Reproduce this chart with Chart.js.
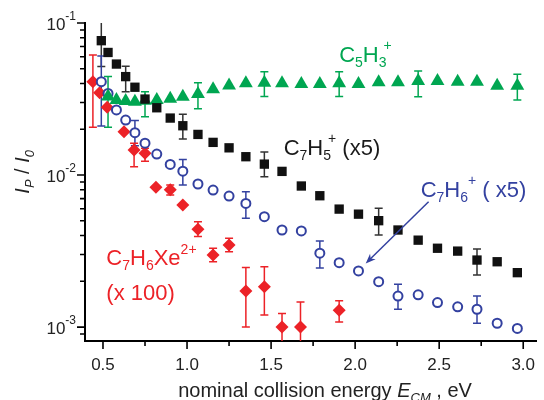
<!DOCTYPE html>
<html>
<head>
<meta charset="utf-8">
<script src="https://cdn.jsdelivr.net/npm/chart.js@4.4.0/dist/chart.umd.min.js"></script>
<style>
  html, body { margin: 0; padding: 0; background: #fff; }
</style>
</head>
<body>
<canvas id="chart" width="544" height="400"></canvas>
<script>
// --- DATA ---
const energy = [0.49, 0.53, 0.58, 0.635, 0.69, 0.75, 0.82, 0.90, 0.975, 1.065, 1.155, 1.25, 1.35, 1.46,
  1.565, 1.68, 1.79, 1.905, 2.02, 2.14, 2.255, 2.375, 2.49, 2.61, 2.725, 2.845, 2.965];

// C7H5+ (x5), black squares
const c7h5 = [0.0765, 0.064, 0.0537, 0.0444, 0.0378, 0.0316, 0.0277, 0.0237, 0.0211, 0.0185, 0.0164, 0.0151,
  0.0132, 0.0118, 0.01057, 0.00847, 0.00731, 0.00597, 0.00553, 0.00501, 0.00435, 0.00373, 0.0033, 0.00316,
  0.00276, 0.00269, 0.00228];
const c7h5ErrAt = [0, 3, 8, 13, 19, 24];
const c7h5ErrLo = [0.0517, 0.0353, 0.01726, 0.00975, 0.00403, 0.0022];
const c7h5ErrHi = [0.105, 0.052, 0.0251, 0.0142, 0.00604, 0.00326];

// C5H3+, green triangles (no point at the first energy)
const c5h3 = [null, 0.0328, 0.0311, 0.0307, 0.0304, 0.0308, 0.0311, 0.0318, 0.0327, 0.0341, 0.0366, 0.0388,
  0.0402, 0.0404, 0.0401, 0.0397, 0.0397, 0.0401, 0.0397, 0.0407, 0.0407, 0.0415, 0.0415, 0.0411, 0.0411,
  0.0387, 0.0387];
const c5h3ErrAt = [1, 5, 9, 13, 17, 21, 26];
const c5h3ErrLo = [0.0206, 0.0242, 0.0273, 0.0328, 0.0328, 0.0327, 0.0311];
const c5h3ErrHi = [0.0444, 0.0353, 0.0404, 0.0478, 0.0478, 0.0483, 0.0461];

// C7H6+ (x5), open blue circles
const c7h6 = [0.0411, 0.0344, 0.0268, 0.023, 0.019, 0.0162, 0.01375, 0.01175, 0.0106, 0.00873, 0.00796,
  0.00727, 0.00651, 0.00532, 0.00435, 0.00429, 0.00306, 0.00265, 0.00234, 0.00199, 0.0016, 0.00163, 0.00145,
  0.00136, 0.00131, 0.00106, 0.00098];
const c7h6ErrAt = [0, 4, 8, 12, 16, 20, 24];
const c7h6ErrLo = [0.021, 0.0156, 0.00859, 0.00519, 0.00245, 0.00131, 0.00106];
const c7h6ErrHi = [0.0607, 0.0228, 0.01267, 0.00776, 0.00368, 0.00191, 0.0016];

// C7H6Xe2+ (x 100), red diamonds
const energyXe = [0.44, 0.48, 0.525, 0.625, 0.685, 0.75, 0.815, 0.90, 0.975, 1.065, 1.155, 1.25, 1.35, 1.46,
  1.565, 1.675, 1.905];
const c7h6xe = [0.0411, 0.0348, 0.0279, 0.0193, 0.0146, 0.0139, 0.0083, 0.008, 0.00635, 0.0044, 0.00298,
  0.00347, 0.00173, 0.00184, 0.001, 0.001, 0.00129];
const c7h6xeErrAt = [0, 4, 5, 7, 9, 10, 11, 12, 13, 14, 15, 16];
const c7h6xeErrLo = [0.0206, 0.01135, 0.0123, 0.0074, 0.00394, 0.00269, 0.00313, 0.001, 0.0012, 0.0007, 0.0007, 0.00108];
const c7h6xeErrHi = [0.0616, 0.0162, 0.015, 0.0086, 0.00493, 0.0033, 0.00384, 0.00247, 0.00249, 0.00123, 0.00146, 0.00149];

// axis ticks
const xTickValues = [0.5, 1.0, 1.5, 2.0, 2.5, 3.0];
const xTickLabels = ['0.5', '1.0', '1.5', '2.0', '2.5', '3.0'];
const xMinorTicks = [0.75, 1.25, 1.75, 2.25, 2.75];
const yTickValues = [1e-1, 1e-2, 1e-3];
const yTickExp = ['-1', '-2', '-3'];

// --- STYLE ---
const FONT = '"Liberation Sans", Arial, Helvetica, sans-serif';
const BLACK = '#111111';
const GREEN = '#00a651';
const BLUE = '#3341a0';
const RED = '#ec2227';

const pts = (xs, ys) => xs.map((v, i) => (ys[i] == null ? null : { x: v, y: ys[i] })).filter(p => p);

// --- ERROR BARS ---
const errorBars = {
  id: 'errorBars',
  beforeDatasetsDraw(chart) {
    const { ctx, chartArea: a, scales: { x, y } } = chart;
    ctx.save();
    ctx.beginPath();
    ctx.rect(a.left, a.top, a.right - a.left, a.bottom - a.top);
    ctx.clip();
    chart.data.datasets.forEach(ds => {
      ctx.strokeStyle = ds.errColor;
      ctx.lineWidth = 1.5;
      ds.errAt.forEach((xv, k) => {
        const px = x.getPixelForValue(xv);
        const top = y.getPixelForValue(ds.errHi[k]);
        const bot = y.getPixelForValue(ds.errLo[k]);
        ctx.beginPath();
        ctx.moveTo(px, top); ctx.lineTo(px, bot);
        ctx.moveTo(px - 4, top); ctx.lineTo(px + 4, top);
        ctx.moveTo(px - 4, bot); ctx.lineTo(px + 4, bot);
        ctx.stroke();
      });
    });
    ctx.restore();
  }
};

// text made of runs: {t, s (size), dy, dx, it (italic)}
function drawRuns(ctx, x0, y0, runs, color) {
  ctx.fillStyle = color;
  ctx.textAlign = 'left';
  ctx.textBaseline = 'alphabetic';
  let cx = x0;
  runs.forEach(r => {
    ctx.font = (r.it ? 'italic ' : '') + r.s + 'px ' + FONT;
    cx += r.dx || 0;
    ctx.fillText(r.t, cx, y0 + (r.dy || 0));
    cx += ctx.measureText(r.t).width;
  });
  return cx - x0;
}
function runsWidth(ctx, runs) {
  let w = 0;
  runs.forEach(r => {
    ctx.font = (r.it ? 'italic ' : '') + r.s + 'px ' + FONT;
    w += (r.dx || 0) + ctx.measureText(r.t).width;
  });
  return w;
}

// labels placed in data coordinates (left edge, baseline)
const labels = [
  { x: 1.905, y: 0.0551, color: GREEN, runs: [{ t: 'C', s: 22 }, { t: '5', s: 14, dy: 5 }, { t: 'H', s: 22 }, { t: '3', s: 14, dy: 5 }, { t: '+', s: 14, dy: -12, dx: -3 }] },
  { x: 1.575, y: 0.01355, color: '#1a1a1a', runs: [{ t: 'C', s: 22 }, { t: '7', s: 14, dy: 5 }, { t: 'H', s: 22 }, { t: '5', s: 14, dy: 5 }, { t: '+', s: 14, dy: -12, dx: -3 }, { t: ' (x5)', s: 22 }] },
  { x: 2.39, y: 0.00719, color: BLUE, runs: [{ t: 'C', s: 22 }, { t: '7', s: 14, dy: 5 }, { t: 'H', s: 22 }, { t: '6', s: 14, dy: 5 }, { t: '+', s: 14, dy: -12, dx: 0 }, { t: ' ( x5)', s: 22 }] },
  { x: 0.52, y: 0.00256, color: RED, runs: [{ t: 'C', s: 22 }, { t: '7', s: 14, dy: 5 }, { t: 'H', s: 22 }, { t: '6', s: 14, dy: 5 }, { t: 'Xe', s: 22 }, { t: '2+', s: 14, dy: -11 }] },
  { x: 0.52, y: 0.00151, color: RED, runs: [{ t: '(x 100)', s: 22 }] }
];
const arrowFrom = { x: 2.437, y: 0.00667 };
const arrowTo = { x: 2.063, y: 0.00262 };

// --- AXES DECORATION: tick marks, tick labels, titles, annotations ---
const decor = {
  id: 'decor',
  afterDraw(chart) {
    const { ctx, chartArea: a, scales: { x, y } } = chart;
    ctx.save();
    ctx.strokeStyle = '#000';
    ctx.lineWidth = 1.6;
    // x ticks
    ctx.beginPath();
    xTickValues.forEach(v => { const px = x.getPixelForValue(v); ctx.moveTo(px, a.bottom); ctx.lineTo(px, a.bottom + 8); });
    xMinorTicks.forEach(v => { const px = x.getPixelForValue(v); ctx.moveTo(px, a.bottom); ctx.lineTo(px, a.bottom + 5); });
    // y ticks (log minors 2..9)
    yTickValues.forEach(v => { const py = y.getPixelForValue(v); ctx.moveTo(a.left, py); ctx.lineTo(a.left - 8, py); });
    yTickValues.forEach(v => {
      for (let k = 2; k <= 9; k++) {
        const val = v * k;
        if (val < y.min || val > y.max) continue;
        const py = y.getPixelForValue(val);
        ctx.moveTo(a.left, py); ctx.lineTo(a.left - 5, py);
      }
    });
    const v9 = yTickValues[yTickValues.length - 1] * 0.9;
    if (v9 >= y.min) { const py = y.getPixelForValue(v9); ctx.moveTo(a.left, py); ctx.lineTo(a.left - 5, py); }
    ctx.stroke();

    // x tick labels
    ctx.fillStyle = '#222';
    ctx.font = '17px ' + FONT;
    ctx.textAlign = 'center';
    ctx.textBaseline = 'alphabetic';
    xTickValues.forEach((v, i) => ctx.fillText(xTickLabels[i], x.getPixelForValue(v), a.bottom + 29));

    // y tick labels: 10^n
    yTickValues.forEach((v, i) => {
      const py = y.getPixelForValue(v);
      ctx.font = '12px ' + FONT;
      const we = ctx.measureText(yTickExp[i]).width;
      ctx.textAlign = 'right';
      ctx.fillText(yTickExp[i], a.left - 9, py - 3);
      ctx.font = '17px ' + FONT;
      ctx.fillText('10', a.left - 9 - we, py + 7);
    });

    // x title
    const xt = [{ t: 'nominal collision energy ', s: 20 }, { t: 'E', s: 20, it: true }, { t: 'CM', s: 13, dy: 5, it: true }, { t: ' , eV', s: 20 }];
    const xw = runsWidth(ctx, xt);
    drawRuns(ctx, 325 - xw / 2, a.bottom + 56, xt, '#222');

    // y title, rotated
    const yt = [{ t: 'I', s: 20, it: true }, { t: 'P', s: 13, dy: 5, it: true }, { t: ' / ', s: 20 }, { t: 'I', s: 20, it: true }, { t: '0', s: 13, dy: 5, it: true }];
    const yw = runsWidth(ctx, yt);
    ctx.save();
    ctx.translate(29, y.getPixelForValue(0.0105));
    ctx.rotate(-Math.PI / 2);
    drawRuns(ctx, -yw / 2, 0, yt, '#222');
    ctx.restore();

    // annotations
    labels.forEach(l => drawRuns(ctx, x.getPixelForValue(l.x), y.getPixelForValue(l.y), l.runs, l.color));

    // arrow
    const x1 = x.getPixelForValue(arrowFrom.x), y1 = y.getPixelForValue(arrowFrom.y);
    const x2 = x.getPixelForValue(arrowTo.x), y2 = y.getPixelForValue(arrowTo.y);
    const ang = Math.atan2(y2 - y1, x2 - x1);
    ctx.strokeStyle = BLUE;
    ctx.fillStyle = BLUE;
    ctx.lineWidth = 1.5;
    ctx.beginPath();
    ctx.moveTo(x1, y1);
    ctx.lineTo(x2 - 6 * Math.cos(ang), y2 - 6 * Math.sin(ang));
    ctx.stroke();
    ctx.beginPath();
    ctx.moveTo(x2, y2);
    ctx.lineTo(x2 - 10 * Math.cos(ang) + 4 * Math.sin(ang), y2 - 10 * Math.sin(ang) - 4 * Math.cos(ang));
    ctx.lineTo(x2 - 7 * Math.cos(ang), y2 - 7 * Math.sin(ang));
    ctx.lineTo(x2 - 10 * Math.cos(ang) - 4 * Math.sin(ang), y2 - 10 * Math.sin(ang) + 4 * Math.cos(ang));
    ctx.closePath();
    ctx.fill();
    ctx.restore();
  }
};

const ctx = document.getElementById('chart').getContext('2d');
new Chart(ctx, {
  type: 'scatter',
  data: {
    datasets: [
      {
        label: 'C7H5+ (x5)', data: pts(energy, c7h5),
        pointStyle: 'rect', pointRadius: 6.6, backgroundColor: BLACK, borderColor: BLACK, borderWidth: 0,
        errAt: c7h5ErrAt.map(i => energy[i]), errLo: c7h5ErrLo, errHi: c7h5ErrHi, errColor: '#333', order: 1
      },
      {
        label: 'C5H3+', data: pts(energy, c5h3),
        pointStyle: 'triangle', pointRadius: 8, backgroundColor: GREEN, borderColor: GREEN, borderWidth: 0,
        errAt: c5h3ErrAt.map(i => energy[i]), errLo: c5h3ErrLo, errHi: c5h3ErrHi, errColor: GREEN, order: 2
      },
      {
        label: 'C7H6+ (x5)', data: pts(energy, c7h6),
        pointStyle: 'circle', pointRadius: 4.5, backgroundColor: '#fff', borderColor: BLUE, borderWidth: 2,
        errAt: c7h6ErrAt.map(i => energy[i]), errLo: c7h6ErrLo, errHi: c7h6ErrHi, errColor: BLUE, order: 3
      },
      {
        label: 'C7H6Xe2+ (x 100)', data: pts(energyXe, c7h6xe),
        pointStyle: 'rectRot', pointRadius: 6.5, backgroundColor: RED, borderColor: RED, borderWidth: 0,
        errAt: c7h6xeErrAt.map(i => energyXe[i]), errLo: c7h6xeErrLo, errHi: c7h6xeErrHi, errColor: RED, order: 4
      }
    ]
  },
  options: {
    responsive: false,
    animation: false,
    layout: { padding: { left: 85, top: 23, right: 0, bottom: 59 } },
    plugins: { legend: { display: false }, tooltip: { enabled: false } },
    scales: {
      x: {
        type: 'linear', min: 0.393, max: 3.076,
        grid: { display: false, drawTicks: false },
        ticks: { display: false },
        border: { display: true, color: '#000', width: 2 }
      },
      y: {
        type: 'logarithmic', min: 0.00081, max: 0.1,
        grid: { display: false, drawTicks: false },
        ticks: { display: false },
        border: { display: true, color: '#000', width: 2 }
      }
    }
  },
  plugins: [errorBars, decor]
});
</script>
</body>
</html>
